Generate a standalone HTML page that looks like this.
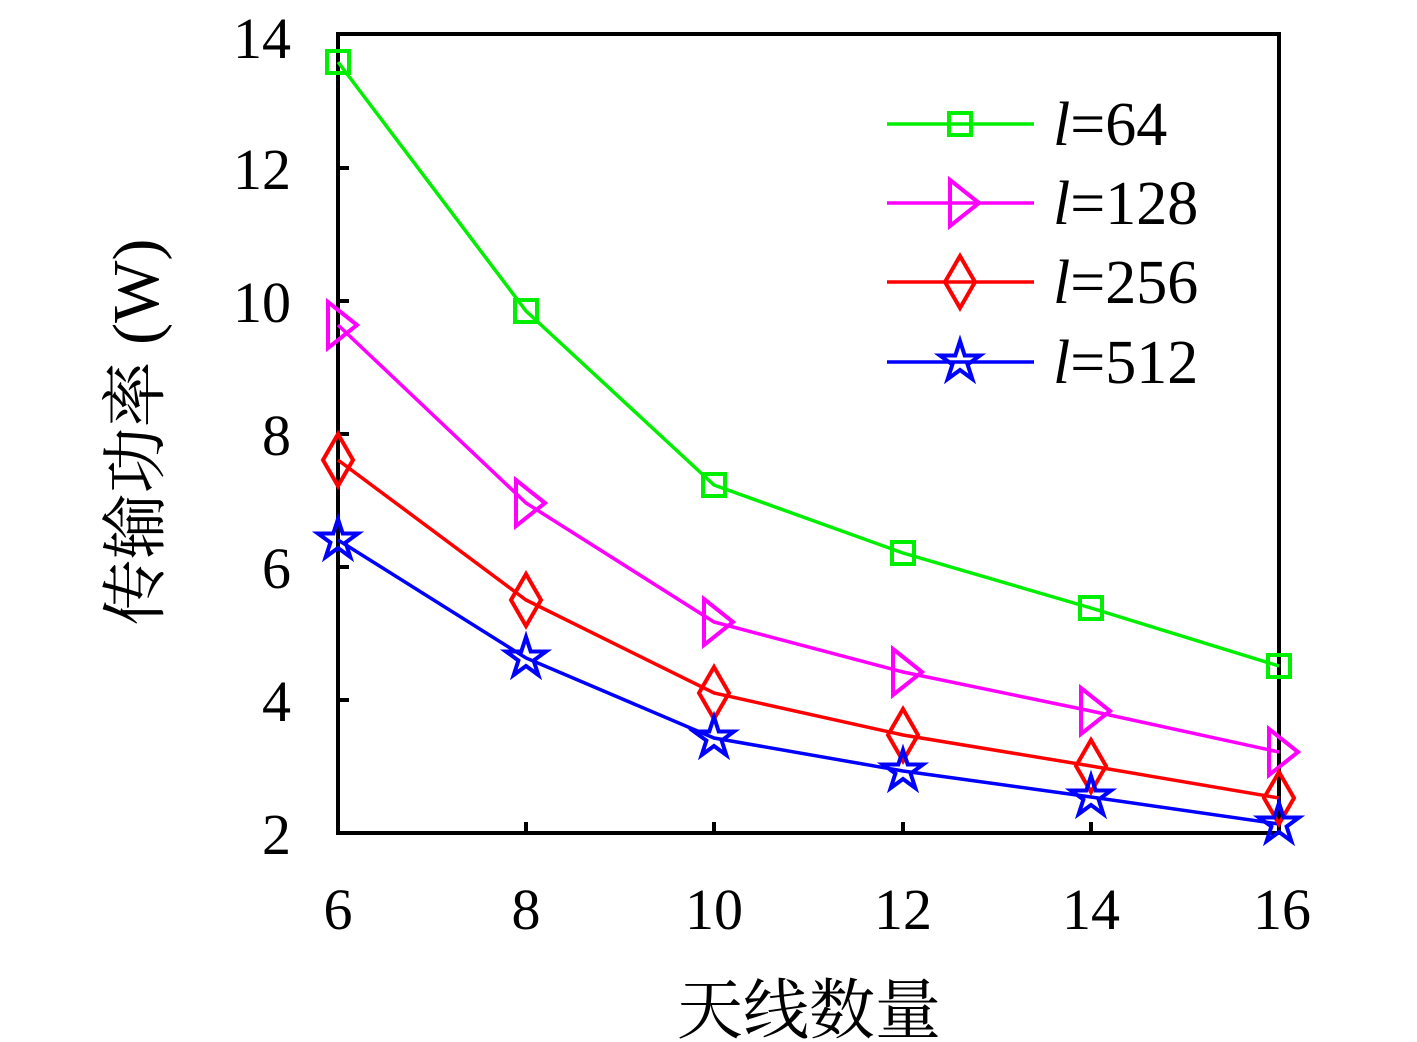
<!DOCTYPE html>
<html><head><meta charset="utf-8"><style>
html,body{margin:0;padding:0;background:#fff;}
svg{display:block;}
.t{font-family:"Liberation Serif","DejaVu Serif",serif;font-size:58px;fill:#000;}
</style></head><body>
<svg width="1417" height="1042" viewBox="0 0 1417 1042" xmlns="http://www.w3.org/2000/svg">
<defs>
<g id="sq"><rect x="-11" y="-11" width="22" height="22" fill="none" stroke="#00ee00" stroke-width="4"/></g>
<g id="tr"><polygon points="-10,-23 19,0 -10,23" fill="none" stroke="#ff00ff" stroke-width="4"/></g>
<g id="di"><polygon points="0,-26 15,0 0,26 -15,0" fill="none" stroke="#ff0000" stroke-width="4"/></g>
<g id="st"><polygon points="0,-21 4.7,-6.5 20,-6.5 7.6,2.5 12.3,17 0,8 -12.3,17 -7.6,2.5 -20,-6.5 -4.7,-6.5" fill="none" stroke="#0000ff" stroke-width="4"/></g>
</defs>
<rect x="338" y="34" width="941" height="799" fill="none" stroke="#000" stroke-width="4"/>
<g stroke="#000" stroke-width="4">
<line x1="338" y1="700" x2="349" y2="700"/><line x1="338" y1="567" x2="349" y2="567"/>
<line x1="338" y1="434" x2="349" y2="434"/><line x1="338" y1="301" x2="349" y2="301"/>
<line x1="338" y1="168" x2="349" y2="168"/>
<line x1="526" y1="833" x2="526" y2="822"/><line x1="714" y1="833" x2="714" y2="822"/>
<line x1="903" y1="833" x2="903" y2="822"/><line x1="1091" y1="833" x2="1091" y2="822"/>
</g>
<g class="t" text-anchor="end">
<text x="291" y="854">2</text><text x="291" y="721">4</text><text x="291" y="588">6</text>
<text x="291" y="455">8</text><text x="291" y="322">10</text><text x="291" y="189">12</text><text x="291" y="58">14</text>
</g>
<g class="t" text-anchor="middle">
<text x="338" y="929">6</text><text x="526" y="929">8</text><text x="714" y="929">10</text>
<text x="903" y="929">12</text><text x="1091" y="929">14</text><text x="1282" y="929">16</text>
</g>
<text x="809" y="1033" text-anchor="middle" style="font-family:'Noto Serif CJK SC','Liberation Serif',serif;font-size:66px">天线数量</text>
<text transform="translate(158,432) rotate(-90)" text-anchor="middle" style="font-family:'Liberation Serif','Noto Serif CJK SC',serif;font-size:66px">传输功率 (W)</text>
<g fill="none" stroke-width="3.5">
<polyline stroke="#00ee00" points="338,62 526,311 714,485 903,553 1091,608 1279,666"/>
<polyline stroke="#ff00ff" points="338,325 526,503 714,622 903,672 1091,711 1279,752"/>
<polyline stroke="#ff0000" points="338,460 526,600 714,693 903,735 1091,766 1279,798"/>
<polyline stroke="#0000ff" points="338,540 526,658 714,738 903,771 1091,797 1279,824"/>
</g>
<use href="#sq" x="338" y="62"/><use href="#sq" x="526" y="311"/><use href="#sq" x="714" y="485"/>
<use href="#sq" x="903" y="553"/><use href="#sq" x="1091" y="608"/><use href="#sq" x="1279" y="666"/>
<use href="#tr" x="338" y="325"/><use href="#tr" x="526" y="503"/><use href="#tr" x="714" y="622"/>
<use href="#tr" x="903" y="672"/><use href="#tr" x="1091" y="711"/><use href="#tr" x="1279" y="752"/>
<use href="#di" x="338" y="460"/><use href="#di" x="526" y="600"/><use href="#di" x="714" y="693"/>
<use href="#di" x="903" y="735"/><use href="#di" x="1091" y="766"/><use href="#di" x="1279" y="798"/>
<use href="#st" x="338" y="540"/><use href="#st" x="526" y="658"/><use href="#st" x="714" y="738"/>
<use href="#st" x="903" y="771"/><use href="#st" x="1091" y="797"/><use href="#st" x="1279" y="824"/>
<g stroke-width="3.5">
<line x1="887" y1="124" x2="1034" y2="124" stroke="#00ee00"/>
<line x1="887" y1="203" x2="1034" y2="203" stroke="#ff00ff"/>
<line x1="887" y1="282" x2="1034" y2="282" stroke="#ff0000"/>
<line x1="887" y1="362" x2="1034" y2="362" stroke="#0000ff"/>
</g>
<use href="#sq" x="960" y="124"/><use href="#tr" x="960" y="203"/>
<use href="#di" x="960" y="282"/><use href="#st" x="960" y="362"/>
<g class="t" style="font-size:62px">
<text x="1053" y="145"><tspan font-style="italic">l</tspan>=64</text>
<text x="1053" y="224"><tspan font-style="italic">l</tspan>=128</text>
<text x="1053" y="303"><tspan font-style="italic">l</tspan>=256</text>
<text x="1053" y="383"><tspan font-style="italic">l</tspan>=512</text>
</g>
</svg>
</body></html>
